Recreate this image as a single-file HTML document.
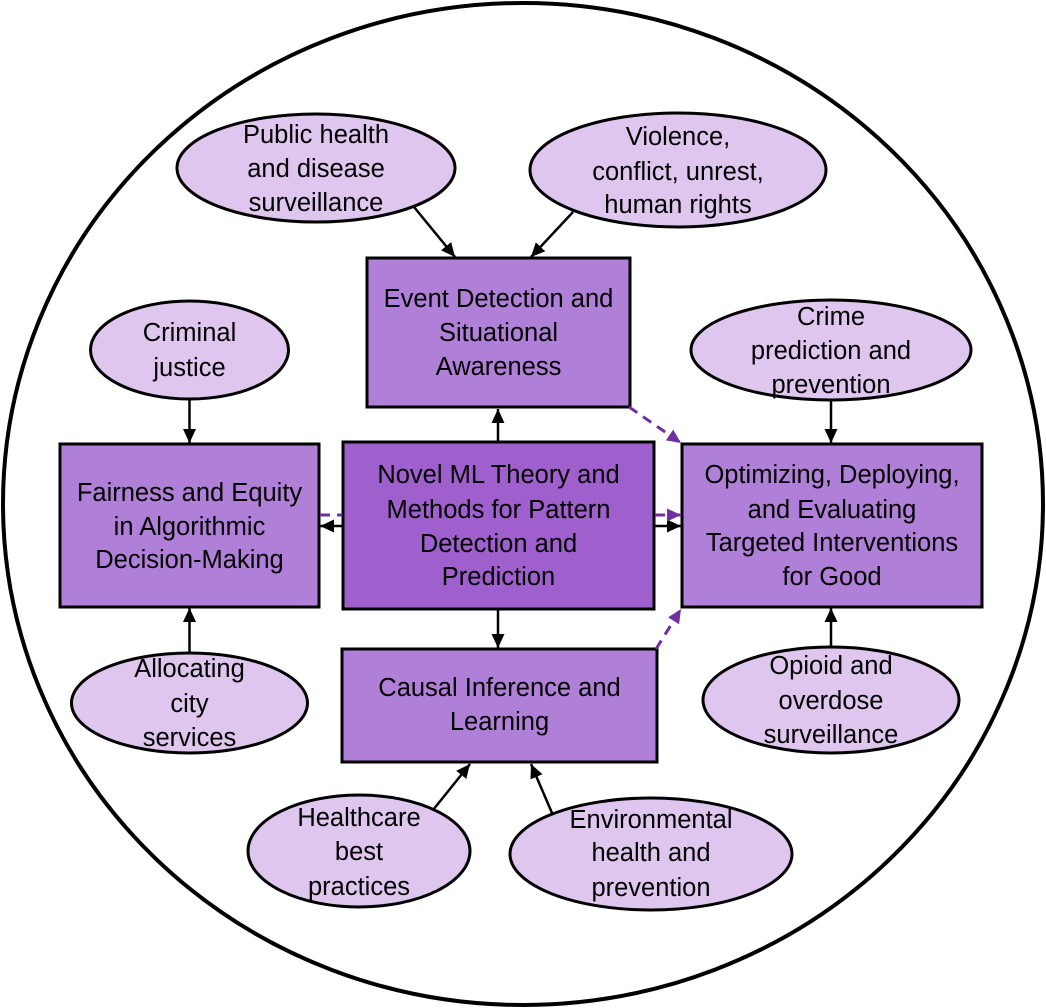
<!DOCTYPE html>
<html>
<head>
<meta charset="utf-8">
<style>
  html, body { margin: 0; padding: 0; background: #ffffff; }
  svg { display: block; }
  text { font-family: "Liberation Sans", "DejaVu Sans", sans-serif; font-size: 25.5px; fill: #000; text-anchor: middle; }
</style>
</head>
<body>
<svg width="1046" height="1008" viewBox="0 0 1046 1008" xmlns="http://www.w3.org/2000/svg">
  <defs>
    <marker id="ab" markerUnits="userSpaceOnUse" markerWidth="15" markerHeight="13" refX="14" refY="6.5" orient="auto">
      <path d="M0,0 L14,6.5 L0,13 Z" fill="#000"/>
    </marker>
    <marker id="ap" markerUnits="userSpaceOnUse" markerWidth="15" markerHeight="13" refX="14" refY="6.5" orient="auto">
      <path d="M0,0 L14,6.5 L0,13 Z" fill="#7030a0"/>
    </marker>
  </defs>

  <!-- outer circle -->
  <ellipse cx="523" cy="504" rx="520" ry="501" fill="#fff" stroke="#000" stroke-width="4"/>

  <!-- ellipses -->
  <g fill="#dec6ee" stroke="#000" stroke-width="3">
    <ellipse cx="316" cy="168" rx="139" ry="54"/>
    <ellipse cx="678" cy="170" rx="148" ry="57"/>
    <ellipse cx="189.5" cy="350" rx="99" ry="49"/>
    <ellipse cx="831" cy="350" rx="140" ry="50"/>
    <ellipse cx="189.5" cy="703" rx="118" ry="50"/>
    <ellipse cx="831" cy="700" rx="128" ry="53"/>
    <ellipse cx="359" cy="851" rx="111" ry="56"/>
    <ellipse cx="651" cy="854" rx="141" ry="56"/>
  </g>

  <!-- boxes -->
  <g stroke="#000" stroke-width="3">
    <rect x="367" y="258" width="263" height="149" fill="#b07fd7"/>
    <rect x="60" y="444" width="259" height="163" fill="#b07fd7"/>
    <rect x="682" y="444" width="300" height="163" fill="#b07fd7"/>
    <rect x="343" y="442" width="311" height="167" fill="#9f5fcd"/>
    <rect x="342" y="649" width="315" height="113" fill="#b07fd7"/>
  </g>

  <!-- black arrows -->
  <g stroke="#000" stroke-width="2.5" fill="none" marker-end="url(#ab)">
    <line x1="414" y1="207" x2="455" y2="257"/>
    <line x1="573" y1="212" x2="531" y2="257"/>
    <line x1="498" y1="441" x2="498" y2="409"/>
    <line x1="342" y1="526" x2="320" y2="526"/>
    <line x1="655" y1="526" x2="681" y2="526"/>
    <line x1="498" y1="610" x2="498" y2="648"/>
    <line x1="189.5" y1="400" x2="189.5" y2="443"/>
    <line x1="189.5" y1="653" x2="189.5" y2="608"/>
    <line x1="831" y1="400" x2="831" y2="443"/>
    <line x1="831" y1="647" x2="831" y2="608"/>
    <line x1="433" y1="810" x2="470" y2="764"/>
    <line x1="552" y1="813" x2="531" y2="764"/>
  </g>

  <!-- purple dashed arrows -->
  <g stroke="#7030a0" stroke-width="3" fill="none" stroke-dasharray="10,7">
    <line x1="629" y1="407" x2="681" y2="443" marker-end="url(#ap)"/>
    <line x1="655" y1="515" x2="681" y2="515" marker-end="url(#ap)"/>
    <line x1="320" y1="515" x2="342" y2="515"/>
    <line x1="656" y1="649" x2="681" y2="609" marker-end="url(#ap)"/>
  </g>

  <!-- text -->
  <text x="316" y="143">Public health</text>
  <text x="316" y="177">and disease</text>
  <text x="316" y="211">surveillance</text>

  <text x="678" y="145">Violence,</text>
  <text x="678" y="180">conflict, unrest,</text>
  <text x="678" y="213">human rights</text>

  <text x="498.5" y="307">Event Detection and</text>
  <text x="498.5" y="341">Situational</text>
  <text x="498.5" y="375">Awareness</text>

  <text x="189.5" y="341">Criminal</text>
  <text x="189.5" y="376">justice</text>

  <text x="831" y="325">Crime</text>
  <text x="831" y="359">prediction and</text>
  <text x="831" y="393">prevention</text>

  <text x="189.5" y="501">Fairness and Equity</text>
  <text x="189.5" y="535">in Algorithmic</text>
  <text x="189.5" y="568">Decision-Making</text>

  <text x="498.5" y="483">Novel ML Theory and</text>
  <text x="498.5" y="518">Methods for Pattern</text>
  <text x="498.5" y="552">Detection and</text>
  <text x="498.5" y="585">Prediction</text>

  <text x="832" y="483">Optimizing, Deploying,</text>
  <text x="832" y="518">and Evaluating</text>
  <text x="832" y="551">Targeted Interventions</text>
  <text x="832" y="585">for Good</text>

  <text x="189.5" y="677">Allocating</text>
  <text x="189.5" y="712">city</text>
  <text x="189.5" y="746">services</text>

  <text x="499.5" y="696">Causal Inference and</text>
  <text x="499.5" y="730">Learning</text>

  <text x="831" y="674">Opioid and</text>
  <text x="831" y="709">overdose</text>
  <text x="831" y="743">surveillance</text>

  <text x="359" y="826">Healthcare</text>
  <text x="359" y="860">best</text>
  <text x="359" y="895">practices</text>

  <text x="651" y="828">Environmental</text>
  <text x="651" y="861">health and</text>
  <text x="651" y="896">prevention</text>
</svg>
</body>
</html>
